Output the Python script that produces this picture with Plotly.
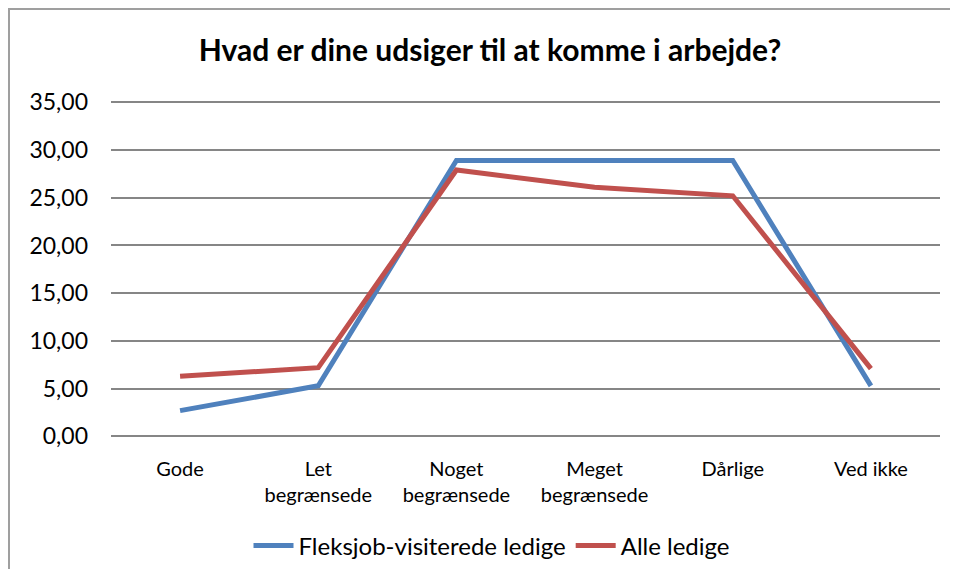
import plotly.graph_objects as go

categories = ["Gode", "Let<br>begrænsede", "Noget<br>begrænsede", "Meget<br>begrænsede", "Dårlige", "Ved ikke"]
fleksjob = [2.7, 5.3, 28.9, 28.9, 28.9, 5.3]
alle = [6.3, 7.2, 27.9, 26.1, 25.2, 7.1]
y_ticks = [0, 5, 10, 15, 20, 25, 30, 35]
y_tick_labels = ["0,00", "5,00", "10,00", "15,00", "20,00", "25,00", "30,00", "35,00"]

# page body has an 8px margin; figure is sized so the page does not overflow the window
OFF = 8
W, H = 958 - OFF, 577 - 2 * OFF
L, T = 111 - OFF, 101 - OFF
R = W - (940 - OFF)
B = H - (437 - OFF)
pw, ph = W - L - R, H - T - B

fig = go.Figure()
fig.add_trace(go.Scatter(x=categories, y=fleksjob, mode="lines", name="Fleksjob-visiterede ledige",
                         line=dict(color="#4F81BD", width=5)))
fig.add_trace(go.Scatter(x=categories, y=alle, mode="lines", name="Alle ledige",
                         line=dict(color="#C0504D", width=5)))

font = "Lato, Open Sans, sans-serif"

fig.update_layout(
    width=W, height=H,
    margin=dict(l=L, r=R, t=T, b=B, autoexpand=False),
    paper_bgcolor="white", plot_bgcolor="white",
    title=dict(text="<b>Hvad er dine udsiger til at komme i arbejde?</b>",
               x=(490 - OFF) / W, xanchor="center", y=1 - (50 - OFF) / H, yanchor="middle",
               font=dict(family=font, size=30, color="black")),
    xaxis=dict(showgrid=False, zeroline=False, showline=False, ticks="",
               tickfont=dict(family=font, size=20, color="black"),
               ticklabelstandoff=18,
               range=[-0.5, 5.5]),
    yaxis=dict(range=[-0.06, 35.13], tickvals=y_ticks, ticktext=y_tick_labels,
               showgrid=True, gridcolor="#868686", gridwidth=1.5,
               zeroline=True, zerolinecolor="#868686", zerolinewidth=1.5,
               showline=False, ticks="",
               ticklabelstandoff=22,
               tickfont=dict(family=font, size=23, color="black")),
    legend=dict(orientation="h", x=(492 - 111) / pw, xanchor="center",
                y=-(546 - 437) / ph, yanchor="middle",
                font=dict(family=font, size=24, color="black"),
                itemwidth=40),
    showlegend=True,
)

# outer chart border (top and left visible) as one open path inside the figure bounds
bx = (9 - 111) / pw
by = (437 - 9) / ph
xr = (W - L) / pw
yb = -B / ph
fig.add_shape(type="path", xref="paper", yref="paper",
              path=f"M {bx},{yb} L {bx},{by} L {xr},{by}",
              line=dict(color="#9f9f9f", width=2), fillcolor="rgba(0,0,0,0)")

fig.write_html("out.html")
